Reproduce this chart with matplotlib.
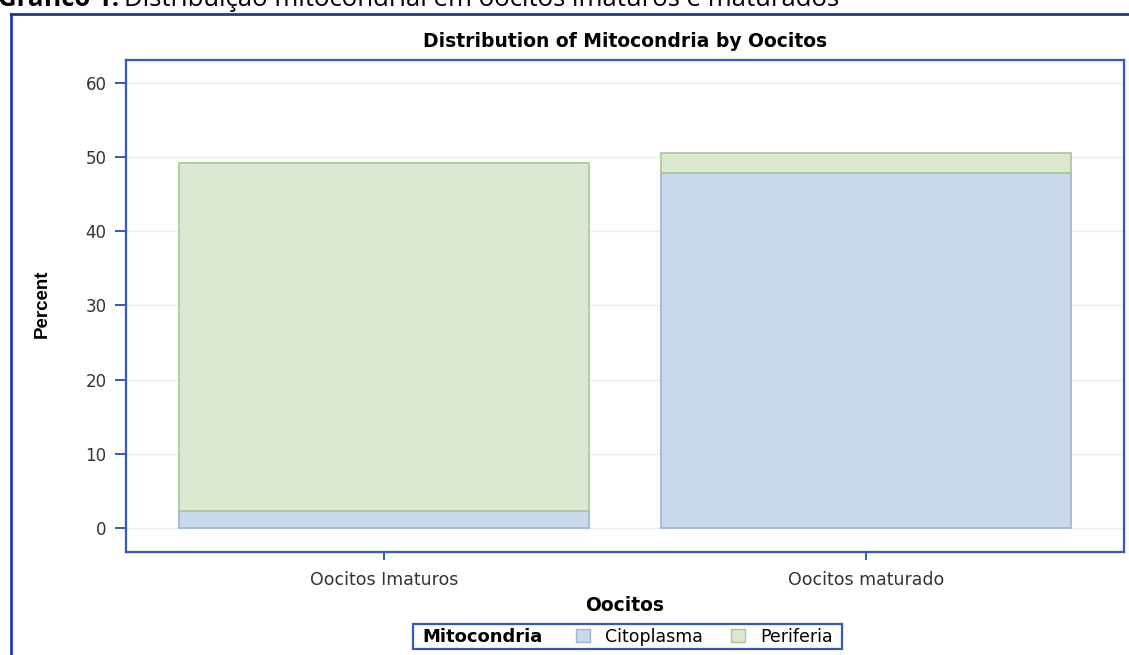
import matplotlib
matplotlib.use("Agg")
import matplotlib.pyplot as plt
import numpy as np
from matplotlib.lines import Line2D
from matplotlib.patches import Patch
from matplotlib.offsetbox import HPacker, DrawingArea

# data
categories = ["Oocitos Imaturos", "Oocitos maturado"]
citoplasma = [2.3, 47.9]
periferia = [47.0, 2.7]
yticks = [0, 10, 20, 30, 40, 50, 60]

fill_blue, edge_blue = "#c9d9ec", "#9cb4d6"
fill_green, edge_green = "#dce7cf", "#aac597"
frame = "#3558bf"

plt.rcParams["font.family"] = ["DejaVu Sans"]

fig = plt.figure(figsize=(11.29, 6.55), dpi=100)
ax = fig.add_axes([0.1116, 0.1577, 0.884, 0.7507])

x = np.arange(len(categories))
ax.bar(x, citoplasma, width=0.85, color=fill_blue, edgecolor=edge_blue,
       linewidth=1.2, zorder=2, label="Citoplasma")
ax.bar(x, periferia, width=0.85, bottom=citoplasma, color=fill_green,
       edgecolor=edge_green, linewidth=1.2, zorder=2, label="Periferia")

ax.set_xlim(-0.535, 1.535)
ax.set_ylim(-3.24, 63.14)
ax.set_yticks(yticks)
ax.set_xticks(x, categories)
ax.grid(axis="y", color="#ebebeb", linewidth=1, zorder=0)
ax.set_axisbelow(True)

for sp in ax.spines.values():
    sp.set_color(frame)
    sp.set_linewidth(1.6)
ax.tick_params(axis="y", length=8, width=1.4, color=frame, pad=6,
               labelsize=12, labelcolor="#333333")
ax.tick_params(axis="x", length=6, width=1.4, color=frame, pad=8,
               labelsize=12.5, labelcolor="#333333")

fig.text(0.5536, 0.936, "Distribution of Mitocondria by Oocitos",
         ha="center", va="center", fontsize=13.5, fontweight="bold")
fig.text(0.5536, 0.075, "Oocitos", ha="center", va="center",
         fontsize=13.5, fontweight="bold")
fig.text(0.037, 0.537, "Percent", ha="center", va="center", rotation=90,
         fontsize=13.5, fontweight="bold",
         family=["Liberation Sans Narrow", "Liberation Sans", "DejaVu Sans"])

# caption, cut by the top edge as in the source document
cap = fig.text(-0.002, 0.9915, "Gráfico 1:", ha="left", va="baseline",
               fontsize=18.5, fontweight="bold", family=["Open Sans", "DejaVu Sans"])
fig.canvas.draw()
bb = cap.get_window_extent()
fig.text((bb.x1 + 5) / fig.bbox.width, 0.9915,
         "Distribuição mitocondrial em oocitos imaturos e maturados",
         ha="left", va="baseline", fontsize=18.5, family=["Open Sans", "DejaVu Sans"])

# outer frame (left and top edges visible)
fig.add_artist(Line2D([0.0097, 0.0097], [0.0, 0.979], transform=fig.transFigure,
                      color="#1f40b0", linewidth=2))
fig.add_artist(Line2D([0.0097, 1.0], [0.979, 0.979], transform=fig.transFigure,
                      color="#1c3a8f", linewidth=2))

# legend with the title inline, left of the entries
handles = [Patch(facecolor=fill_blue, edgecolor=edge_blue),
           Patch(facecolor=fill_green, edgecolor=edge_green)]
leg = fig.legend(handles, ["Citoplasma", "Periferia"], title="Mitocondria",
                 ncol=2, loc="center", bbox_to_anchor=(0.556, 0.028),
                 fontsize=12.5, handlelength=0.8, handleheight=0.8,
                 handletextpad=0.9, columnspacing=1.6, borderpad=0.2,
                 fancybox=False, framealpha=1, edgecolor=frame)
leg.get_title().set_fontweight("bold")
leg.get_title().set_fontsize(13)
leg.get_frame().set_linewidth(1.6)
old = leg._legend_box
inner = HPacker(pad=0, sep=24, align="center",
                children=[leg._legend_title_box, leg._legend_handle_box])
leg._legend_box = HPacker(pad=old.pad, sep=0, align="center",
                          children=[DrawingArea(4, 1), inner, DrawingArea(4, 1)])
leg._legend_box.set_figure(fig)
leg._legend_box.set_offset(leg._findoffset)

fig.savefig("out.png", dpi=100)
